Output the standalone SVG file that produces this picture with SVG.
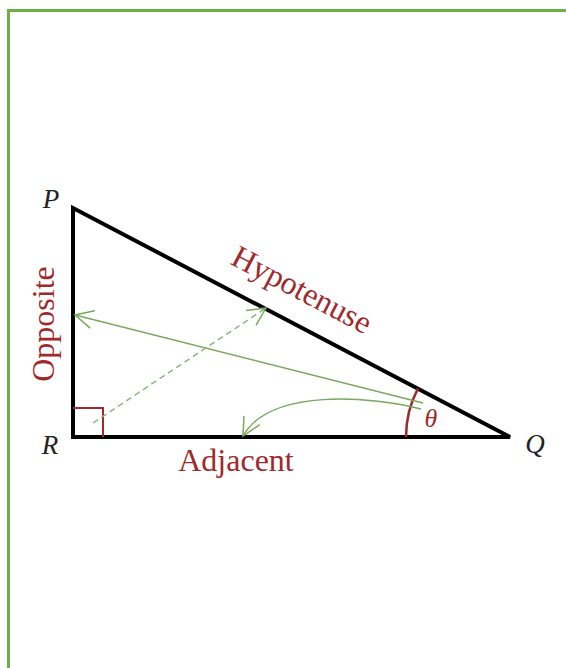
<svg xmlns="http://www.w3.org/2000/svg" width="566" height="668" viewBox="0 0 566 668">
<style>
.lbl{font-family:"Liberation Serif","Times New Roman",serif;fill:#9E2A2B;font-size:32px}
.pt{font-family:"Liberation Serif","Times New Roman",serif;font-style:italic;fill:#222;font-size:27px}
.arr{fill:none;stroke:#78A85E;stroke-width:1.5}
</style>
<defs>
<marker id="ah" markerUnits="userSpaceOnUse" viewBox="-20 -12 24 24" refX="0" refY="0" markerWidth="24" markerHeight="24" orient="auto">
<path d="M-18,-9 L0,0 L-18,9" fill="none" stroke="#78A85E" stroke-width="1.5"/>
</marker>
</defs>
<rect x="8.5" y="10.5" width="580" height="680" fill="#fff" stroke="#6EAF45" stroke-width="3"/>
<g id="triangle">
<path d="M73,208 L73,437 L510,437 Z" fill="none" stroke="#000" stroke-width="4" stroke-linejoin="miter"/>
</g>
<g id="right-angle">
<path d="M73,408 L103,408 L103,437" fill="none" stroke="#9E2A2B" stroke-width="2"/>
</g>
<g id="angle-theta">
<path d="M406,437 A104,104 0 0 1 417.9,388.7" fill="none" stroke="#9E2A2B" stroke-width="2.5"/>
<text class="pt" x="431" y="427" text-anchor="middle" style="fill:#9E2A2B;font-size:26px">θ</text>
</g>
<g id="vertex-P"><text class="pt" x="51" y="208" text-anchor="middle">P</text></g>
<g id="vertex-R"><text class="pt" x="50" y="454" text-anchor="middle">R</text></g>
<g id="vertex-Q"><text class="pt" x="535" y="453" text-anchor="middle">Q</text></g>
<g id="label-opposite"><text class="lbl" transform="translate(54,324) rotate(-90)" text-anchor="middle">Opposite</text></g>
<g id="label-adjacent"><text class="lbl" x="236" y="471" text-anchor="middle">Adjacent</text></g>
<g id="label-hypotenuse"><text class="lbl" transform="translate(297,299) rotate(27.65)" text-anchor="middle">Hypotenuse</text></g>
<g id="connectors">
<path class="arr" d="M423,403 L75,315" marker-end="url(#ah)"/>
<path class="arr" d="M421,409 C370,396 270,388 243,436" marker-end="url(#ah)"/>
<path class="arr" d="M93,423 L266,308" stroke-dasharray="6 4" marker-end="url(#ah)" style="stroke:#8DB87A"/>
</g>
</svg>
